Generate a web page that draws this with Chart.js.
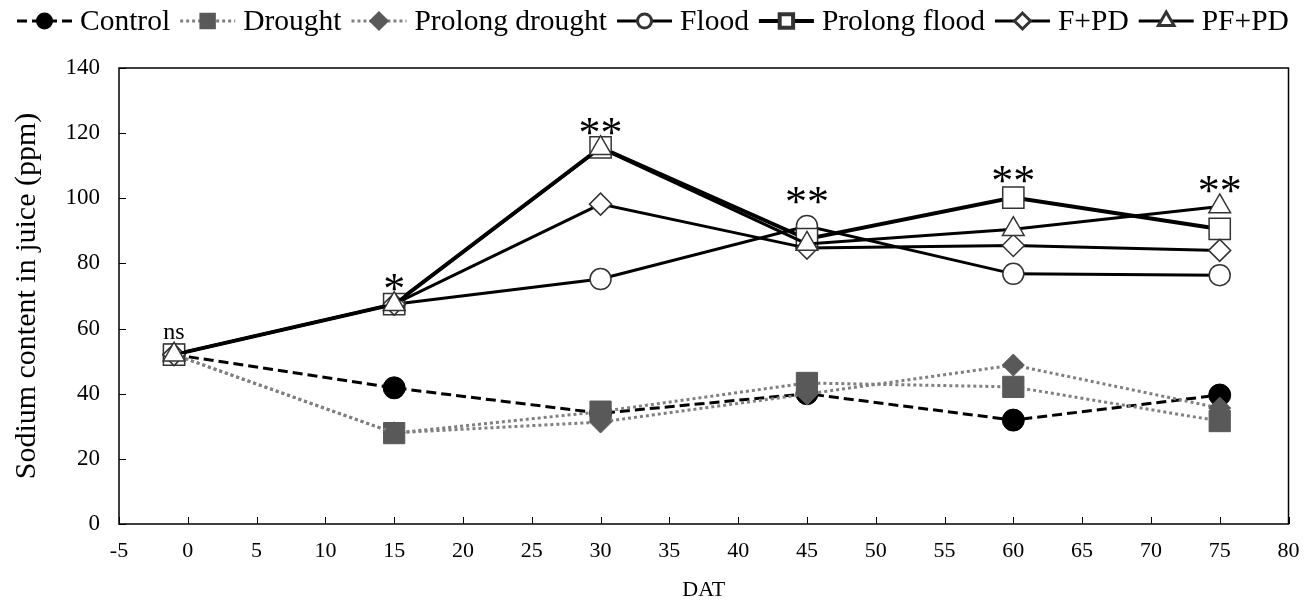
<!DOCTYPE html>
<html><head><meta charset="utf-8">
<script src="https://cdn.jsdelivr.net/npm/chart.js@4/dist/chart.umd.min.js"></script>
<style>html,body{margin:0;padding:0;background:#fff}#wrap{width:1305px;height:606px;position:relative}</style>
</head><body><div id="wrap"><canvas id="c"></canvas></div>
<script>
// ---- data ----
const days = [-1, 15, 30, 45, 60, 75];
const seriesNames = ['Control', 'Drought', 'Prolong drought', 'Flood', 'Prolong flood', 'F+PD', 'PF+PD'];
const control        = [52, 41.8, 34.0, 40.0, 31.9, 39.6];
const drought        = [52, 27.9, 34.5, 43.3, 42.1, 31.6];
const prolongDrought = [52, 28.0, 31.3, 39.9, 48.8, 35.6];
const flood          = [52, 67.5, 75.2, 91.5, 76.8, 76.4];
const prolongFlood   = [52, 67.5, 115.6, 87.5, 100.2, 90.6];
const fPD            = [52, 67.5, 98.2, 84.7, 85.5, 84.0];
const pfPD           = [52, 67.5, 115.4, 86.0, 90.5, 97.5];
const annoX    = [-1, 15, 30, 45, 60, 75];
const annoY    = [58.6, 74, 121.6, 100.7, 107, 103.8];
const annoText = ['ns', '*', '**', '**', '**', '**'];

const FONT = '"Liberation Serif", "Times New Roman", serif';

const styles = [
  {line:'#000', w:3, dash:[10,5], ps:'circle', r:11, bg:'#000', bc:'#000', bw:1, lr:7},
  {line:'#808080', w:3, dash:[3,3], ps:'rect', r:15, bg:'#595959', bc:'#595959', bw:1, lr:9.5},
  {line:'#808080', w:3, dash:[3,3], ps:'rectRot', r:11, bg:'#595959', bc:'#595959', bw:1, lr:8},
  {line:'#000', w:3, dash:[], ps:'circle', r:10.5, bg:'#fff', bc:'#333', bw:1.5, lr:7},
  {line:'#000', w:4, dash:[], ps:'rect', r:15, bg:'#fff', bc:'#333', bw:1.5, lr:9.5},
  {line:'#000', w:3, dash:[], ps:'rectRot', r:11, bg:'#fff', bc:'#333', bw:1.5, lr:8},
  {line:'#000', w:3, dash:[], ps:'triangle', r:12.5, bg:'#fff', bc:'#333', bw:1.5, lr:9}
];
const values = [control, drought, prolongDrought, flood, prolongFlood, fPD, pfPD];

const datasets = values.map((v, i) => {
  const s = styles[i];
  return {
    label: seriesNames[i],
    data: days.map((d, k) => ({x: d, y: v[k]})),
    borderColor: s.line, borderWidth: s.w, borderDash: s.dash,
    pointStyle: s.ps, pointRadius: s.r, pointHoverRadius: s.r,
    pointBackgroundColor: s.bg, pointBorderColor: s.bc, pointBorderWidth: s.bw,
    tension: 0, fill: false, order: values.length - i
  };
});

const framePlugin = {
  id: 'frame',
  beforeDatasetsDraw(chart) {
    const {ctx, chartArea: a, scales} = chart;
    ctx.save();
    ctx.strokeStyle = '#000';
    ctx.lineWidth = 1.5;
    ctx.strokeRect(a.left, a.top, a.right - a.left, a.bottom - a.top);
    ctx.lineWidth = 1;
    ctx.beginPath();
    scales.x.ticks.forEach(t => {
      const x = Math.round(scales.x.getPixelForValue(t.value)) + 0.5;
      ctx.moveTo(x, a.bottom); ctx.lineTo(x, a.bottom - 7);
    });
    scales.y.ticks.forEach(t => {
      const y = Math.round(scales.y.getPixelForValue(t.value)) + 0.5;
      ctx.moveTo(a.left, y); ctx.lineTo(a.left + 7, y);
    });
    ctx.stroke();
    ctx.restore();
  },
  afterDatasetsDraw(chart) {
    const {ctx, scales} = chart;
    ctx.save();
    ctx.fillStyle = '#000';
    ctx.textAlign = 'center';
    ctx.textBaseline = 'middle';
    annoText.forEach((t, i) => {
      ctx.font = t === 'ns' ? '24px ' + FONT : '44px ' + FONT;
      const x = scales.x.getPixelForValue(annoX[i]);
      const y = scales.y.getPixelForValue(annoY[i]) + (t === 'ns' ? 0 : 8);
      ctx.fillText(t, x, y);
    });
    ctx.restore();
  },
  afterDraw(chart) {
    const {ctx} = chart;
    ctx.save();
    ctx.font = '29.5px ' + FONT;
    ctx.textBaseline = 'alphabetic';
    ctx.textAlign = 'left';
    let x = 17;
    const yL = 21;
    seriesNames.forEach((name, i) => {
      const s = styles[i];
      const len = 55;
      ctx.strokeStyle = s.line;
      ctx.lineWidth = s.w;
      ctx.setLineDash(s.dash);
      ctx.beginPath();
      ctx.moveTo(x, yL); ctx.lineTo(x + len, yL);
      ctx.stroke();
      ctx.setLineDash([]);
      ctx.fillStyle = s.bg;
      ctx.strokeStyle = s.bc;
      Chart.helpers.drawPoint(ctx, {pointStyle: s.ps, radius: s.lr, rotation: 0, borderWidth: s.bw}, x + len / 2, yL);
      x += len + 8;
      ctx.fillStyle = '#000';
      ctx.fillText(name, x, 30);
      x += ctx.measureText(name).width + 10;
    });
    ctx.restore();
  }
};

new Chart(document.getElementById('c'), {
  type: 'line',
  data: {datasets},
  options: {
    responsive: true, maintainAspectRatio: false, animation: false,
    layout: {padding: {top: 68, right: 15, bottom: 0, left: 0}},
    plugins: {legend: {display: false}, tooltip: {enabled: false}},
    scales: {
      x: {
        type: 'linear', min: -5, max: 80,
        ticks: {stepSize: 5, color: '#000', padding: 14, font: {family: FONT, size: 22}, maxRotation: 0, autoSkip: false},
        grid: {display: false, drawTicks: false},
        border: {display: false},
        title: {display: true, text: 'DAT', color: '#000', font: {family: FONT, size: 22}, padding: {top: 0, bottom: 3}},
        afterFit(s) { s.height = 82; s.paddingLeft = 0; s.paddingRight = 0; }
      },
      y: {
        min: 0, max: 140,
        ticks: {stepSize: 20, color: '#000', padding: 19, font: {family: FONT, size: 23}},
        grid: {display: false, drawTicks: false},
        border: {display: false},
        title: {display: true, text: 'Sodium content in juice (ppm)', color: '#000', font: {family: FONT, size: 30}, padding: {top: 9, bottom: 0}},
        afterFit(s) { s.width = 119; }
      }
    }
  },
  plugins: [framePlugin]
});
</script>
</body></html>
